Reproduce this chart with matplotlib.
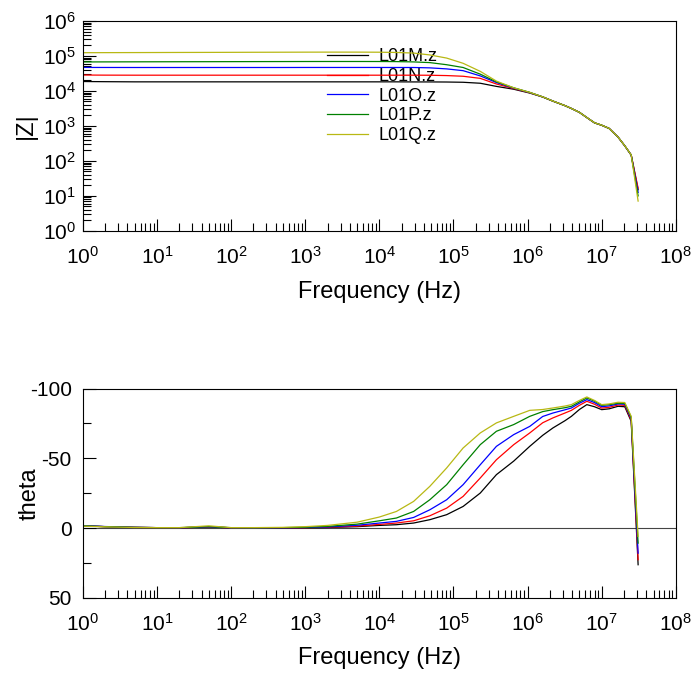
import matplotlib.pyplot as plt
from matplotlib.ticker import LogLocator, FixedLocator, NullFormatter

plt.rcParams['font.family'] = ['Liberation Sans', 'DejaVu Sans']
plt.rcParams['axes.unicode_minus'] = False

# sweep frequencies (Hz)
freq = [1, 2, 5, 10, 20, 50, 100, 200, 500, 1e3, 2e3, 5e3,
        1e4, 1.7e4, 2.9e4, 4.8e4, 8.1e4, 1.35e5, 2.3e5, 3.8e5, 6.5e5, 1.07e6,
        1.6e6, 2.2e6, 3.2e6, 3.9e6, 5e6, 6.3e6, 8e6, 1e7, 1.26e7, 1.66e7,
        2.05e7, 2.5e7, 3.1e7]

labels = ['L01M.z', 'L01N.z', 'L01O.z', 'L01P.z', 'L01Q.z']
colors = ['#000000', '#ff0000', '#0000ff', '#008000', '#b8b814']

# |Z| in ohm
z_m = [18600, 18400, 18200, 18200, 18200, 18200, 18200, 18200, 18200, 18200, 18200, 18200,
       18200, 18200, 18100, 18100, 18000, 17700, 16600, 13500, 11200, 8700,
       6700, 5100, 3790, 3150, 2440, 1730, 1220, 1040, 845, 480, 268, 146, 15]
z_n = [28500, 28300, 28200, 28200, 28200, 28200, 28200, 28200, 28200, 28200, 28200, 28200,
       28200, 28200, 28200, 28100, 27500, 26300, 22900, 15800, 11700, 8900,
       6750, 5120, 3800, 3160, 2450, 1740, 1230, 1050, 850, 482, 270, 148, 16.6]
z_o = [47000, 46900, 46800, 46800, 46800, 46800, 46800, 46800, 46800, 46900, 46900, 46900,
       46900, 46800, 46800, 45700, 42700, 38000, 26900, 17400, 12000, 9000,
       6760, 5130, 3800, 3160, 2450, 1740, 1230, 1050, 850, 482, 270, 148, 12.6]
z_p = [67500, 67700, 68000, 68200, 68400, 68600, 68800, 69000, 69200, 69400, 69500, 69500,
       69400, 69000, 67600, 64600, 56200, 46800, 30200, 18200, 12300, 9100,
       6770, 5130, 3800, 3160, 2450, 1740, 1230, 1050, 850, 482, 270, 148, 10]
z_q = [124000, 124500, 125000, 125500, 126000, 126500, 127000, 127500, 128000, 128500, 128800, 128800,
       128000, 126000, 121000, 107000, 87000, 61700, 36300, 19100, 12300, 9100,
       6780, 5140, 3800, 3160, 2450, 1740, 1230, 1050, 850, 482, 270, 148, 7.1]

# phase in degrees
th_m = [-1.5, -1.0, -0.5, -0.3, -0.2, -0.8, -0.2, -0.1, -0.1, -0.2, -0.4, -1.0,
        -1.9, -2.4, -3.6, -6.0, -9.6, -15.5, -25.1, -38.3, -48.0, -58.6,
        -66.5, -71.8, -77.0, -80.1, -85.0, -88.5, -87.0, -84.9, -85.5, -87.3, -87.0, -76.5, 26.3]
th_n = [-1.6, -1.0, -0.5, -0.3, -0.2, -0.8, -0.2, -0.1, -0.2, -0.3, -0.6, -1.4,
        -2.6, -3.6, -5.2, -8.8, -14.3, -22.7, -35.9, -49.0, -59.8, -68.2,
        -75.5, -79.0, -82.5, -84.4, -88.0, -90.9, -88.8, -86.0, -86.6, -88.2, -88.0, -77.5, 22.7]
th_o = [-1.8, -1.1, -0.5, -0.3, -0.2, -0.9, -0.2, -0.1, -0.2, -0.4, -0.8, -2.0,
        -3.6, -4.8, -7.6, -13.1, -20.3, -31.1, -45.4, -58.6, -67.0, -72.9,
        -80.0, -82.5, -84.8, -86.1, -89.5, -92.1, -90.0, -87.0, -87.6, -89.0, -88.8, -78.5, 18.0]
th_p = [-1.6, -1.0, -0.5, -0.3, -0.3, -1.0, -0.3, -0.2, -0.3, -0.6, -1.2, -2.8,
        -5.2, -7.2, -11.9, -20.3, -31.1, -45.4, -59.8, -69.4, -74.2, -80.1,
        -83.5, -84.9, -86.3, -87.3, -90.5, -93.3, -91.0, -88.0, -88.5, -89.5, -89.4, -79.5, 10.8]
th_q = [-1.4, -0.9, -0.4, -0.3, -0.3, -1.6, -0.3, -0.3, -0.5, -1.0, -1.9, -4.2,
        -7.9, -11.9, -19.1, -29.9, -43.1, -57.4, -68.2, -75.4, -80.1, -84.4,
        -85.0, -86.1, -87.5, -88.5, -91.5, -94.0, -91.5, -88.5, -89.0, -90.2, -90.0, -80.1, 6.0]

mags = [z_m, z_n, z_o, z_p, z_q]
phases = [th_m, th_n, th_o, th_p, th_q]

fig = plt.figure(figsize=(6.96, 6.77), dpi=100)
ax1 = fig.add_axes([0.119, 0.659, 0.852, 0.310])
ax2 = fig.add_axes([0.119, 0.117, 0.852, 0.309])


def style_freq_axis(ax):
    ax.set_xscale('log')
    ax.set_xlim(1, 1e8)
    ax.xaxis.set_major_locator(LogLocator(base=10, numticks=20))
    ax.xaxis.set_minor_locator(LogLocator(base=10, subs=range(2, 10), numticks=200))
    ax.xaxis.set_minor_formatter(NullFormatter())
    ax.tick_params(axis='x', which='major', direction='in', length=9, width=0.8,
                   labelsize=15, pad=11, top=False)
    ax.tick_params(axis='x', which='minor', direction='in', length=5.5, width=0.8, top=False)
    ax.set_xlabel('Frequency (Hz)', fontsize=17, labelpad=9)
    for s in ax.spines.values():
        s.set_linewidth(0.8)


# impedance magnitude
for z, c, lab in zip(mags, colors, labels):
    ax1.plot(freq, z, color=c, lw=0.9, label=lab, zorder=2)
style_freq_axis(ax1)
ax1.set_yscale('log')
ax1.set_ylim(1, 1e6)
ax1.yaxis.set_major_locator(LogLocator(base=10, numticks=20))
ax1.yaxis.set_minor_locator(LogLocator(base=10, subs=range(2, 10), numticks=200))
ax1.yaxis.set_minor_formatter(NullFormatter())
ax1.tick_params(axis='y', which='major', direction='in', length=9, width=0.8,
                labelsize=15, pad=5, right=False)
ax1.tick_params(axis='y', which='minor', direction='in', length=5.5, width=0.8, right=False)
ax1.set_ylabel('|Z|', fontsize=17)
ax1.yaxis.set_label_coords(-0.077, 0.5)

leg = ax1.legend(loc='upper left', bbox_to_anchor=(0.411, 0.87), frameon=False,
                 fontsize=13, handlelength=2.3, handletextpad=0.6,
                 labelspacing=0.15, borderpad=0, borderaxespad=0)
leg.set_zorder(1)

# phase angle
ax2.axhline(0, color='#444444', lw=0.8, zorder=1)
for th, c in zip(phases, colors):
    ax2.plot(freq, th, color=c, lw=0.9, zorder=2)
style_freq_axis(ax2)
ax2.set_ylim(50, -100)
ax2.yaxis.set_major_locator(FixedLocator([-100, -50, 0, 50]))
ax2.yaxis.set_minor_locator(FixedLocator([-75, -25, 25]))
ax2.tick_params(axis='y', which='major', direction='in', length=9, width=0.8,
                labelsize=15, pad=8, right=False)
ax2.tick_params(axis='y', which='minor', direction='in', length=5.5, width=0.8, right=False)
ax2.set_ylabel('theta', fontsize=17)
ax2.yaxis.set_label_coords(-0.072, 0.5)

fig.savefig('out.png', dpi=100)
